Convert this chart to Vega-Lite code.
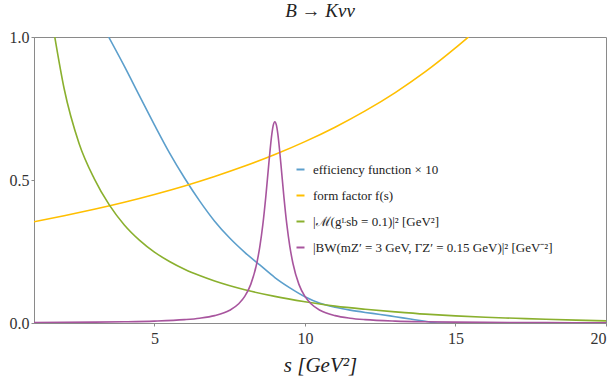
{
  "$schema": "https://vega.github.io/schema/vega-lite/v6.json",
  "width": 572,
  "height": 286,
  "autosize": {"type": "none"},
  "padding": {"left": 34, "top": 37, "right": 7, "bottom": 62},
  "background": "white",
  "title": {"text": "B → Kνν", "font": "Liberation Serif", "fontStyle": "italic", "fontWeight": "normal", "fontSize": 19, "color": "#222", "anchor": "middle", "offset": 8},
  "config": {
    "view": {"stroke": "#8a8a8a", "strokeWidth": 1},
    "axis": {"labelFont": "Liberation Serif", "labelFontSize": 16, "labelColor": "#333", "titleFont": "Liberation Serif", "domainColor": "#8a8a8a", "tickColor": "#8a8a8a", "tickSize": 3, "grid": false}
  },
  "data": {"values": [
    {"s": 3.48, "v": 1.0, "series": "efficiency function × 10"},
    {"s": 4.0, "v": 0.898, "series": "efficiency function × 10"},
    {"s": 4.5, "v": 0.795, "series": "efficiency function × 10"},
    {"s": 5.0, "v": 0.693, "series": "efficiency function × 10"},
    {"s": 5.5, "v": 0.595, "series": "efficiency function × 10"},
    {"s": 6.0, "v": 0.507, "series": "efficiency function × 10"},
    {"s": 6.5, "v": 0.427, "series": "efficiency function × 10"},
    {"s": 7.0, "v": 0.356, "series": "efficiency function × 10"},
    {"s": 7.5, "v": 0.297, "series": "efficiency function × 10"},
    {"s": 8.0, "v": 0.247, "series": "efficiency function × 10"},
    {"s": 8.5, "v": 0.203, "series": "efficiency function × 10"},
    {"s": 9.0, "v": 0.159, "series": "efficiency function × 10"},
    {"s": 9.5, "v": 0.123, "series": "efficiency function × 10"},
    {"s": 10.0, "v": 0.092, "series": "efficiency function × 10"},
    {"s": 10.5, "v": 0.069, "series": "efficiency function × 10"},
    {"s": 11.0, "v": 0.055, "series": "efficiency function × 10"},
    {"s": 11.5, "v": 0.045, "series": "efficiency function × 10"},
    {"s": 12.0, "v": 0.037, "series": "efficiency function × 10"},
    {"s": 12.5, "v": 0.030, "series": "efficiency function × 10"},
    {"s": 13.0, "v": 0.022, "series": "efficiency function × 10"},
    {"s": 13.5, "v": 0.014, "series": "efficiency function × 10"},
    {"s": 14.0, "v": 0.006, "series": "efficiency function × 10"},
    {"s": 14.3, "v": 0.001, "series": "efficiency function × 10"},
    {"s": 14.5, "v": 0.0, "series": "efficiency function × 10"},
    {"s": 20, "v": 0.0, "series": "efficiency function × 10"},

    {"s": 1, "v": 0.3541, "series": "form factor f(s)"},
    {"s": 2, "v": 0.3748, "series": "form factor f(s)"},
    {"s": 3, "v": 0.3975, "series": "form factor f(s)"},
    {"s": 4, "v": 0.4222, "series": "form factor f(s)"},
    {"s": 5, "v": 0.4494, "series": "form factor f(s)"},
    {"s": 6, "v": 0.4792, "series": "form factor f(s)"},
    {"s": 7, "v": 0.5122, "series": "form factor f(s)"},
    {"s": 8, "v": 0.5486, "series": "form factor f(s)"},
    {"s": 9, "v": 0.5891, "series": "form factor f(s)"},
    {"s": 10, "v": 0.6342, "series": "form factor f(s)"},
    {"s": 11, "v": 0.6847, "series": "form factor f(s)"},
    {"s": 12, "v": 0.7415, "series": "form factor f(s)"},
    {"s": 13, "v": 0.8057, "series": "form factor f(s)"},
    {"s": 14, "v": 0.8786, "series": "form factor f(s)"},
    {"s": 15, "v": 0.9618, "series": "form factor f(s)"},
    {"s": 15.43, "v": 1.0, "series": "form factor f(s)"},

    {"s": 1.69, "v": 1.0, "series": "|ℳ(gᴸsb = 0.1)|² [GeV²]"},
    {"s": 2.0, "v": 0.82, "series": "|ℳ(gᴸsb = 0.1)|² [GeV²]"},
    {"s": 2.5, "v": 0.627, "series": "|ℳ(gᴸsb = 0.1)|² [GeV²]"},
    {"s": 3.0, "v": 0.505, "series": "|ℳ(gᴸsb = 0.1)|² [GeV²]"},
    {"s": 3.5, "v": 0.413, "series": "|ℳ(gᴸsb = 0.1)|² [GeV²]"},
    {"s": 4.0, "v": 0.343, "series": "|ℳ(gᴸsb = 0.1)|² [GeV²]"},
    {"s": 4.5, "v": 0.29, "series": "|ℳ(gᴸsb = 0.1)|² [GeV²]"},
    {"s": 5.0, "v": 0.248, "series": "|ℳ(gᴸsb = 0.1)|² [GeV²]"},
    {"s": 5.5, "v": 0.215, "series": "|ℳ(gᴸsb = 0.1)|² [GeV²]"},
    {"s": 6.0, "v": 0.188, "series": "|ℳ(gᴸsb = 0.1)|² [GeV²]"},
    {"s": 6.5, "v": 0.166, "series": "|ℳ(gᴸsb = 0.1)|² [GeV²]"},
    {"s": 7.0, "v": 0.147, "series": "|ℳ(gᴸsb = 0.1)|² [GeV²]"},
    {"s": 8.0, "v": 0.1164, "series": "|ℳ(gᴸsb = 0.1)|² [GeV²]"},
    {"s": 9.0, "v": 0.0931, "series": "|ℳ(gᴸsb = 0.1)|² [GeV²]"},
    {"s": 10.0, "v": 0.0745, "series": "|ℳ(gᴸsb = 0.1)|² [GeV²]"},
    {"s": 11.0, "v": 0.059, "series": "|ℳ(gᴸsb = 0.1)|² [GeV²]"},
    {"s": 12.0, "v": 0.048, "series": "|ℳ(gᴸsb = 0.1)|² [GeV²]"},
    {"s": 13.0, "v": 0.039, "series": "|ℳ(gᴸsb = 0.1)|² [GeV²]"},
    {"s": 14.0, "v": 0.031, "series": "|ℳ(gᴸsb = 0.1)|² [GeV²]"},
    {"s": 15.0, "v": 0.025, "series": "|ℳ(gᴸsb = 0.1)|² [GeV²]"},
    {"s": 16.0, "v": 0.020, "series": "|ℳ(gᴸsb = 0.1)|² [GeV²]"},
    {"s": 17.0, "v": 0.0165, "series": "|ℳ(gᴸsb = 0.1)|² [GeV²]"},
    {"s": 18.0, "v": 0.013, "series": "|ℳ(gᴸsb = 0.1)|² [GeV²]"},
    {"s": 19.0, "v": 0.010, "series": "|ℳ(gᴸsb = 0.1)|² [GeV²]"},
    {"s": 20.0, "v": 0.0075, "series": "|ℳ(gᴸsb = 0.1)|² [GeV²]"},

    {"s": 1, "v": 0.00167, "series": "|BW(mZ′ = 3 GeV, ΓZ′ = 0.15 GeV)|² [GeV⁻²]"},
    {"s": 2, "v": 0.00218, "series": "|BW(mZ′ = 3 GeV, ΓZ′ = 0.15 GeV)|² [GeV⁻²]"},
    {"s": 3, "v": 0.00296, "series": "|BW(mZ′ = 3 GeV, ΓZ′ = 0.15 GeV)|² [GeV⁻²]"},
    {"s": 4, "v": 0.00425, "series": "|BW(mZ′ = 3 GeV, ΓZ′ = 0.15 GeV)|² [GeV⁻²]"},
    {"s": 5, "v": 0.00662, "series": "|BW(mZ′ = 3 GeV, ΓZ′ = 0.15 GeV)|² [GeV⁻²]"},
    {"s": 6, "v": 0.01169, "series": "|BW(mZ′ = 3 GeV, ΓZ′ = 0.15 GeV)|² [GeV⁻²]"},
    {"s": 6.5, "v": 0.01671, "series": "|BW(mZ′ = 3 GeV, ΓZ′ = 0.15 GeV)|² [GeV⁻²]"},
    {"s": 7, "v": 0.02577, "series": "|BW(mZ′ = 3 GeV, ΓZ′ = 0.15 GeV)|² [GeV⁻²]"},
    {"s": 7.5, "v": 0.04455, "series": "|BW(mZ′ = 3 GeV, ΓZ′ = 0.15 GeV)|² [GeV⁻²]"},
    {"s": 7.8, "v": 0.06721, "series": "|BW(mZ′ = 3 GeV, ΓZ′ = 0.15 GeV)|² [GeV⁻²]"},
    {"s": 8, "v": 0.09288, "series": "|BW(mZ′ = 3 GeV, ΓZ′ = 0.15 GeV)|² [GeV⁻²]"},
    {"s": 8.2, "v": 0.1351, "series": "|BW(mZ′ = 3 GeV, ΓZ′ = 0.15 GeV)|² [GeV⁻²]"},
    {"s": 8.4, "v": 0.209, "series": "|BW(mZ′ = 3 GeV, ΓZ′ = 0.15 GeV)|² [GeV⁻²]"},
    {"s": 8.5, "v": 0.2662, "series": "|BW(mZ′ = 3 GeV, ΓZ′ = 0.15 GeV)|² [GeV⁻²]"},
    {"s": 8.6, "v": 0.3429, "series": "|BW(mZ′ = 3 GeV, ΓZ′ = 0.15 GeV)|² [GeV⁻²]"},
    {"s": 8.7, "v": 0.4421, "series": "|BW(mZ′ = 3 GeV, ΓZ′ = 0.15 GeV)|² [GeV⁻²]"},
    {"s": 8.8, "v": 0.5573, "series": "|BW(mZ′ = 3 GeV, ΓZ′ = 0.15 GeV)|² [GeV⁻²]"},
    {"s": 8.9, "v": 0.6605, "series": "|BW(mZ′ = 3 GeV, ΓZ′ = 0.15 GeV)|² [GeV⁻²]"},
    {"s": 8.95, "v": 0.6926, "series": "|BW(mZ′ = 3 GeV, ΓZ′ = 0.15 GeV)|² [GeV⁻²]"},
    {"s": 9.0, "v": 0.7039, "series": "|BW(mZ′ = 3 GeV, ΓZ′ = 0.15 GeV)|² [GeV⁻²]"},
    {"s": 9.05, "v": 0.6926, "series": "|BW(mZ′ = 3 GeV, ΓZ′ = 0.15 GeV)|² [GeV⁻²]"},
    {"s": 9.1, "v": 0.6605, "series": "|BW(mZ′ = 3 GeV, ΓZ′ = 0.15 GeV)|² [GeV⁻²]"},
    {"s": 9.2, "v": 0.5573, "series": "|BW(mZ′ = 3 GeV, ΓZ′ = 0.15 GeV)|² [GeV⁻²]"},
    {"s": 9.3, "v": 0.4421, "series": "|BW(mZ′ = 3 GeV, ΓZ′ = 0.15 GeV)|² [GeV⁻²]"},
    {"s": 9.4, "v": 0.3429, "series": "|BW(mZ′ = 3 GeV, ΓZ′ = 0.15 GeV)|² [GeV⁻²]"},
    {"s": 9.5, "v": 0.2662, "series": "|BW(mZ′ = 3 GeV, ΓZ′ = 0.15 GeV)|² [GeV⁻²]"},
    {"s": 9.6, "v": 0.209, "series": "|BW(mZ′ = 3 GeV, ΓZ′ = 0.15 GeV)|² [GeV⁻²]"},
    {"s": 9.8, "v": 0.1351, "series": "|BW(mZ′ = 3 GeV, ΓZ′ = 0.15 GeV)|² [GeV⁻²]"},
    {"s": 10, "v": 0.09288, "series": "|BW(mZ′ = 3 GeV, ΓZ′ = 0.15 GeV)|² [GeV⁻²]"},
    {"s": 10.2, "v": 0.06721, "series": "|BW(mZ′ = 3 GeV, ΓZ′ = 0.15 GeV)|² [GeV⁻²]"},
    {"s": 10.5, "v": 0.04455, "series": "|BW(mZ′ = 3 GeV, ΓZ′ = 0.15 GeV)|² [GeV⁻²]"},
    {"s": 11, "v": 0.02577, "series": "|BW(mZ′ = 3 GeV, ΓZ′ = 0.15 GeV)|² [GeV⁻²]"},
    {"s": 11.5, "v": 0.01671, "series": "|BW(mZ′ = 3 GeV, ΓZ′ = 0.15 GeV)|² [GeV⁻²]"},
    {"s": 12, "v": 0.01169, "series": "|BW(mZ′ = 3 GeV, ΓZ′ = 0.15 GeV)|² [GeV⁻²]"},
    {"s": 13, "v": 0.00662, "series": "|BW(mZ′ = 3 GeV, ΓZ′ = 0.15 GeV)|² [GeV⁻²]"},
    {"s": 14, "v": 0.00425, "series": "|BW(mZ′ = 3 GeV, ΓZ′ = 0.15 GeV)|² [GeV⁻²]"},
    {"s": 15, "v": 0.00296, "series": "|BW(mZ′ = 3 GeV, ΓZ′ = 0.15 GeV)|² [GeV⁻²]"},
    {"s": 16, "v": 0.00218, "series": "|BW(mZ′ = 3 GeV, ΓZ′ = 0.15 GeV)|² [GeV⁻²]"},
    {"s": 17, "v": 0.00167, "series": "|BW(mZ′ = 3 GeV, ΓZ′ = 0.15 GeV)|² [GeV⁻²]"},
    {"s": 18, "v": 0.0013, "series": "|BW(mZ′ = 3 GeV, ΓZ′ = 0.15 GeV)|² [GeV⁻²]"},
    {"s": 19, "v": 0.0011, "series": "|BW(mZ′ = 3 GeV, ΓZ′ = 0.15 GeV)|² [GeV⁻²]"},
    {"s": 20, "v": 0.00088, "series": "|BW(mZ′ = 3 GeV, ΓZ′ = 0.15 GeV)|² [GeV⁻²]"}
  ]},
  "mark": {"type": "line", "interpolate": "monotone", "strokeWidth": 1.6, "clip": true},
  "encoding": {
    "x": {"field": "s", "type": "quantitative", "scale": {"domain": [1, 20], "nice": false, "zero": false},
      "axis": {"values": [5, 10, 15, 20], "title": "s [GeV²]", "titleFontStyle": "italic", "titleFontWeight": "normal", "titleFontSize": 21, "titleColor": "#222", "titlePadding": 8, "labelPadding": 4}},
    "y": {"field": "v", "type": "quantitative", "scale": {"domain": [0, 1], "nice": false},
      "axis": {"values": [0, 0.5, 1], "format": ".1f", "title": null, "labelPadding": 2}},
    "color": {"field": "series", "type": "nominal",
      "scale": {"domain": ["efficiency function × 10", "form factor f(s)", "|ℳ(gᴸsb = 0.1)|² [GeV²]", "|BW(mZ′ = 3 GeV, ΓZ′ = 0.15 GeV)|² [GeV⁻²]"],
        "range": ["#5C9FCC", "#FFBF00", "#8AB02E", "#A8559E"]},
      "legend": {"orient": "none", "legendX": 260, "legendY": 126, "title": null, "symbolType": "stroke", "symbolSize": 64, "symbolStrokeWidth": 2, "labelFont": "Liberation Serif", "labelFontSize": 13, "labelColor": "#222", "labelLimit": 400, "rowPadding": 12, "labelOffset": 6}}
  }
}
